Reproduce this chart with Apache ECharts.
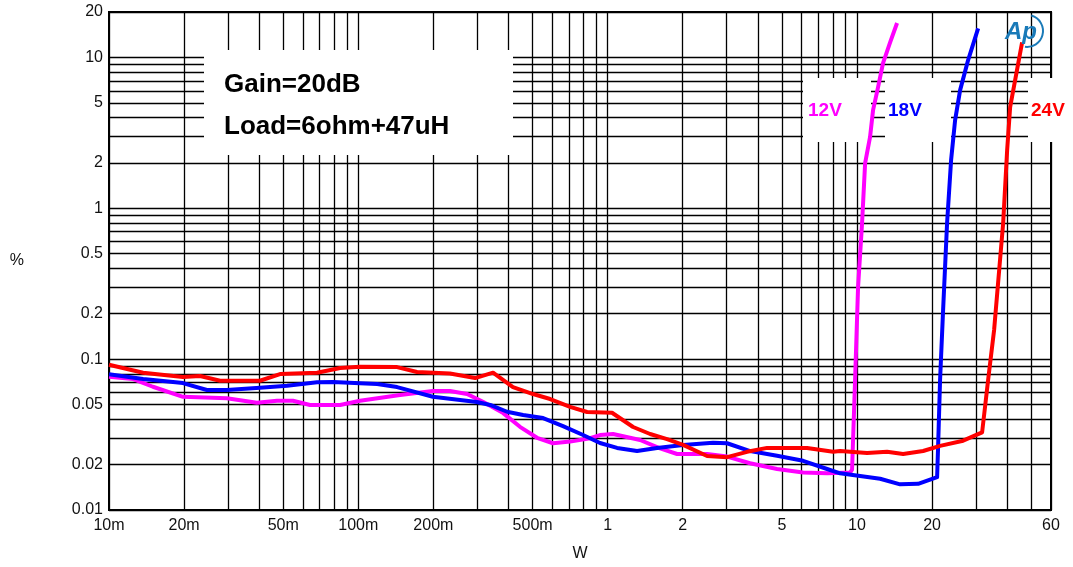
<!DOCTYPE html>
<html>
<head>
<meta charset="utf-8">
<script src="https://cdn.jsdelivr.net/npm/echarts@6/dist/echarts.min.js"></script>
<style>
html,body{margin:0;padding:0;background:#fff;}
#c{width:1073px;height:567px;}
</style>
</head>
<body>
<div id="c"></div>
<script>
// ---- data (W, %) ----
const red24V = [[0.01,0.0918],[0.0137,0.0813],[0.0198,0.0761],[0.0232,0.0773],[0.0279,0.0719],[0.0403,0.0719],[0.0485,0.0796],[0.0683,0.0813],[0.0845,0.0873],[0.1016,0.089],[0.143,0.0886],[0.172,0.0821],[0.233,0.0803],[0.294,0.0749],[0.347,0.0813],[0.417,0.0653],[0.502,0.0587],[0.588,0.0544],[0.707,0.0482],[0.827,0.0446],[1.041,0.0441],[1.265,0.0355],[1.48,0.0319],[1.731,0.0295],[2.007,0.027],[2.504,0.0228],[3.013,0.0224],[3.624,0.0243],[4.359,0.0258],[5.243,0.0258],[6.306,0.0258],[8.021,0.0243],[8.555,0.0246],[10.98,0.0239],[13.2,0.0243],[15.31,0.0235],[18.42,0.0246],[21.54,0.0266],[26.65,0.0288],[31.76,0.0327],[33.57,0.0727],[35.48,0.156],[38.57,0.798],[40.02,2.43],[41.14,4.68],[43.08,7.07],[45.95,12.6]];
const blue18V = [[0.01,0.0793],[0.0137,0.0738],[0.0198,0.0694],[0.0247,0.0624],[0.0297,0.0624],[0.0403,0.0646],[0.0518,0.0666],[0.0683,0.0702],[0.0792,0.0705],[0.1016,0.0691],[0.119,0.0684],[0.143,0.0653],[0.199,0.0563],[0.299,0.052],[0.338,0.0497],[0.395,0.0448],[0.458,0.0426],[0.551,0.0407],[0.662,0.036],[0.797,0.0314],[0.932,0.0278],[1.091,0.0258],[1.312,0.0246],[1.578,0.0258],[2.007,0.027],[2.648,0.0279],[3.013,0.0277],[3.726,0.0246],[4.78,0.0229],[6.078,0.0212],[7.59,0.0187],[8.555,0.0175],[10.29,0.0168],[12.38,0.0161],[14.89,0.0148],[17.59,0.0149],[20.96,0.0165],[21.15,0.0262],[21.54,0.0727],[22.15,0.2115],[22.98,0.798],[23.85,2.087],[24.75,3.84],[25.92,6.07],[27.91,9.6],[30.61,15.6]];
const magenta12V = [[0.01,0.0764],[0.0125,0.0738],[0.015,0.0656],[0.0198,0.0563],[0.0297,0.055],[0.0392,0.0514],[0.0472,0.053],[0.0547,0.053],[0.064,0.0497],[0.0845,0.0497],[0.1016,0.053],[0.147,0.0578],[0.199,0.0615],[0.233,0.0615],[0.273,0.0587],[0.316,0.0522],[0.381,0.0439],[0.445,0.0356],[0.521,0.0301],[0.604,0.0277],[0.707,0.0284],[0.85,0.0299],[0.932,0.0314],[1.051,0.0319],[1.349,0.0291],[1.623,0.0256],[1.899,0.0235],[2.504,0.0235],[3.013,0.0226],[3.726,0.0204],[4.78,0.0187],[6.078,0.0177],[7.59,0.0175],[9.383,0.0177],[9.556,0.0185],[9.826,0.0727],[10.1,0.30],[10.48,0.798],[10.78,1.993],[11.28,2.96],[11.6,4.47],[12.15,6.36],[12.72,9.17],[13.58,12.6],[14.48,16.9]];

// ---- axes: grid lines and labels ----
const xGridValues = [0.01,0.02,0.03,0.04,0.05,0.06,0.07,0.08,0.09,0.1,0.2,0.3,0.4,0.5,0.6,0.7,0.8,0.9,1,2,3,4,5,6,7,8,9,10,20,30,40,50,60];
const xLabelValues = [0.01,0.02,0.05,0.1,0.2,0.5,1,2,5,10,20,60];
const xLabelTexts = ['10m','20m','50m','100m','200m','500m','1','2','5','10','20','60'];
const yGridValues = [0.01,0.02,0.03,0.04,0.05,0.06,0.07,0.08,0.09,0.1,0.2,0.3,0.4,0.5,0.6,0.7,0.8,0.9,1,2,3,4,5,6,7,8,9,10,20];
const yLabelValues = [0.01,0.02,0.05,0.1,0.2,0.5,1,2,5,10,20];
const yLabelTexts = ['0.01','0.02','0.05','0.1','0.2','0.5','1','2','5','10','20'];

function lookup(vals, texts){
  return function(v){
    for (let i=0;i<vals.length;i++){
      if (Math.abs(Math.log10(v)-Math.log10(vals[i]))<1e-4) return texts[i];
    }
    return '';
  };
}

const FONT = 'Arial, "Liberation Sans", sans-serif';
const chart = echarts.init(document.getElementById('c'), null, {renderer:'canvas'});
const gridLine = {show:true, lineStyle:{color:'#000', width:1.3}};

chart.setOption({
  animation:false,
  backgroundColor:'#fff',
  grid:{left:109, right:22, top:12, bottom:57, show:true, borderColor:'#000', borderWidth:2, backgroundColor:'transparent'},
  xAxis:{
    type:'log', min:0.01, max:60, logBase:10,
    name:'W', nameLocation:'middle', nameGap:36,
    nameTextStyle:{fontFamily:FONT, fontSize:16, color:'#111'},
    axisLine:{show:true, lineStyle:{color:'#000', width:2}},
    axisTick:{show:false, customValues:xGridValues},
    axisLabel:{customValues:xLabelValues, formatter:lookup(xLabelValues,xLabelTexts), fontFamily:FONT, fontSize:16, color:'#111', margin:8},
    splitLine:gridLine, minorSplitLine:{show:false}
  },
  yAxis:{
    type:'log', min:0.01, max:20, logBase:10,
    name:'%', nameLocation:'middle', nameGap:85, nameRotate:0,
    nameTextStyle:{fontFamily:FONT, fontSize:16, color:'#111'},
    axisLine:{show:true, lineStyle:{color:'#000', width:2}},
    axisTick:{show:false, customValues:yGridValues},
    axisLabel:{customValues:yLabelValues, formatter:lookup(yLabelValues,yLabelTexts), fontFamily:FONT, fontSize:16, color:'#111', margin:6},
    splitLine:gridLine, minorSplitLine:{show:false}
  },
  series:[
    {name:'12V', type:'line', data:magenta12V, showSymbol:false, z:3, lineStyle:{color:'#ff00ff', width:4, join:'round'}},
    {name:'18V', type:'line', data:blue18V, showSymbol:false, z:3, lineStyle:{color:'#0000ff', width:4, join:'round'}},
    {name:'24V', type:'line', data:red24V, showSymbol:false, z:3, lineStyle:{color:'#ff0000', width:4, join:'round'}}
  ],
  graphic:[
    {type:'rect', z:1, shape:{x:204, y:50, width:309, height:105}, style:{fill:'#fff'}},
    {type:'rect', z:1, shape:{x:803, y:78, width:68, height:64}, style:{fill:'#fff'}},
    {type:'rect', z:1, shape:{x:885, y:78, width:66, height:64}, style:{fill:'#fff'}},
    {type:'rect', z:1, shape:{x:1028, y:78, width:45, height:64}, style:{fill:'#fff'}},
    {type:'text', z:5, x:224, y:85, style:{text:'Gain=20dB', font:'bold 26px '+FONT, fill:'#000', textVerticalAlign:'middle'}},
    {type:'text', z:5, x:224, y:127, style:{text:'Load=6ohm+47uH', font:'bold 26px '+FONT, fill:'#000', textVerticalAlign:'middle'}},
    {type:'text', z:5, x:808, y:111, style:{text:'12V', font:'bold 19px '+FONT, fill:'#ff00ff', textVerticalAlign:'middle'}},
    {type:'text', z:5, x:888, y:111, style:{text:'18V', font:'bold 19px '+FONT, fill:'#0000ff', textVerticalAlign:'middle'}},
    {type:'text', z:5, x:1031, y:111, style:{text:'24V', font:'bold 19px '+FONT, fill:'#ff0000', textVerticalAlign:'middle'}},
    {type:'arc', z:5, shape:{cx:1027, cy:31, r:16, startAngle:-1.3, endAngle:1.7}, style:{stroke:'#1a7ab8', lineWidth:2, fill:null}},
    {type:'text', z:5, x:1005, y:32, style:{text:'Ap', font:'italic bold 24px '+FONT, fill:'#1a7ab8', textVerticalAlign:'middle'}}
  ]
});
</script>
</body>
</html>
